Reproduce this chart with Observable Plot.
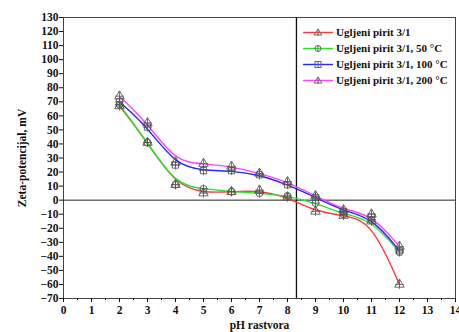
<!DOCTYPE html>
<html><head><meta charset="utf-8">
<script src="https://cdn.jsdelivr.net/npm/d3@7"></script>
<script src="https://cdn.jsdelivr.net/npm/@observablehq/plot@0.6"></script>
<style>
body{margin:0;background:#fff;}
#wrap{position:relative;width:459px;height:332px;font-family:"Liberation Serif",serif;}
#legend{position:absolute;left:303px;top:24px;font-weight:bold;font-size:11px;color:#111;}
#legend .row{display:flex;align-items:center;height:16px;}
#legend svg{margin-right:3px;}
</style></head><body>
<div id="wrap"><div id="legend"></div></div>
<script>
const pH = [2,3,4,5,6,7,8,9,10,11,12];
const seriesNames = ["Ugljeni pirit 3/1","Ugljeni pirit 3/1, 50 °C","Ugljeni pirit 3/1, 100 °C","Ugljeni pirit 3/1, 200 °C"];
const colors = ["#ff3a3a","#2ee02e","#2626ff","#ff44ff"];
const symbols = ["triangle","circle","square","triangle"];
const red     = [67, 41, 11, 5, 6, 7, 2, -8, -11, -15, -60];
const green   = [68, 41, 11, 8, 6, 5, 3, -2, -10, -14, -37];
const blue    = [70, 52, 25, 21, 21, 18, 11, 2, -8, -12, -36];
const magenta = [74, 55, 27, 26, 24, 19, 13, 3, -7, -10, -33];
const yTicks = d3.range(-70, 131, 10);
const xTicks = d3.range(0, 15, 1);
const xMinor = d3.range(0.5, 14, 1);
const refX = [8.32];
const refY = [0];

const allSeries = [red, green, blue, magenta];
const data = allSeries.flatMap((vals, i) => vals.map((v, j) => ({x: pH[j], y: v, s: seriesNames[i], k: i})));

const marks = [
  Plot.frame({stroke: "#444"}),
  Plot.ruleY(refY, {stroke: "#222", strokeWidth: 1}),
  Plot.ruleX(refX, {stroke: "#111", strokeWidth: 1.3}),
  Plot.axisY({ticks: yTicks, tickSize: 4, tickPadding: 1, fontSize: 11.5, fontWeight: "bold",
    label: "Zeta-potencijal, mV", labelAnchor: "center", labelOffset: 46, labelArrow: "none"}),
  Plot.axisX({ticks: xTicks, tickSize: 4, tickPadding: 3, fontSize: 11.5, fontWeight: "bold",
    label: "pH rastvora", labelAnchor: "center", labelOffset: 30, labelArrow: "none"}),
  Plot.axisX(xMinor, {tickSize: 2, tickFormat: () => "", label: null}),
];
allSeries.forEach((vals, i) => {
  const d = data.filter(e => e.k === i);
  marks.push(Plot.line(d, {x: "x", y: "y", stroke: colors[i], strokeWidth: 1.4, curve: "basis"}));
});
allSeries.forEach((vals, i) => {
  const d = data.filter(e => e.k === i);
  marks.push(Plot.dot(d, {x: "x", y: "y", symbol: symbols[i], r: 3.5, stroke: "#555", strokeWidth: 0.9, fill: "none"}));
  marks.push(Plot.dot(d, {x: "x", y: "y", symbol: "plus", r: 3, stroke: "#555", strokeWidth: 0.8}));
});

const chart = Plot.plot({
  width: 459, height: 332,
  marginLeft: 63, marginRight: 4, marginTop: 17, marginBottom: 34,
  style: {fontFamily: "Liberation Serif, serif", fontSize: "11.5px", color: "#111", background: "#fff"},
  x: {domain: [0, 14]},
  y: {domain: [-70, 130]},
  marks
});
chart.style.fontWeight = "bold";
document.getElementById("wrap").prepend(chart);

const leg = document.getElementById("legend");
seriesNames.forEach((n, i) => {
  const row = document.createElement("div");
  row.className = "row";
  const sym = symbols[i] === "triangle" ? '<path d="M15,2 L19,8 L11,8 Z" fill="none" stroke="#666"/>' :
              symbols[i] === "circle" ? '<circle cx="15" cy="5.5" r="3" fill="none" stroke="#666"/>' :
              '<rect x="12" y="2.5" width="6" height="6" fill="none" stroke="#666"/>';
  row.innerHTML = `<svg width="30" height="11"><line x1="0" x2="30" y1="5.5" y2="5.5" stroke="${colors[i]}" stroke-width="1.4"/>${sym}<line x1="15" x2="15" y1="2" y2="9" stroke="#666"/></svg><span>${n}</span>`;
  leg.appendChild(row);
});
</script>
</body></html>
